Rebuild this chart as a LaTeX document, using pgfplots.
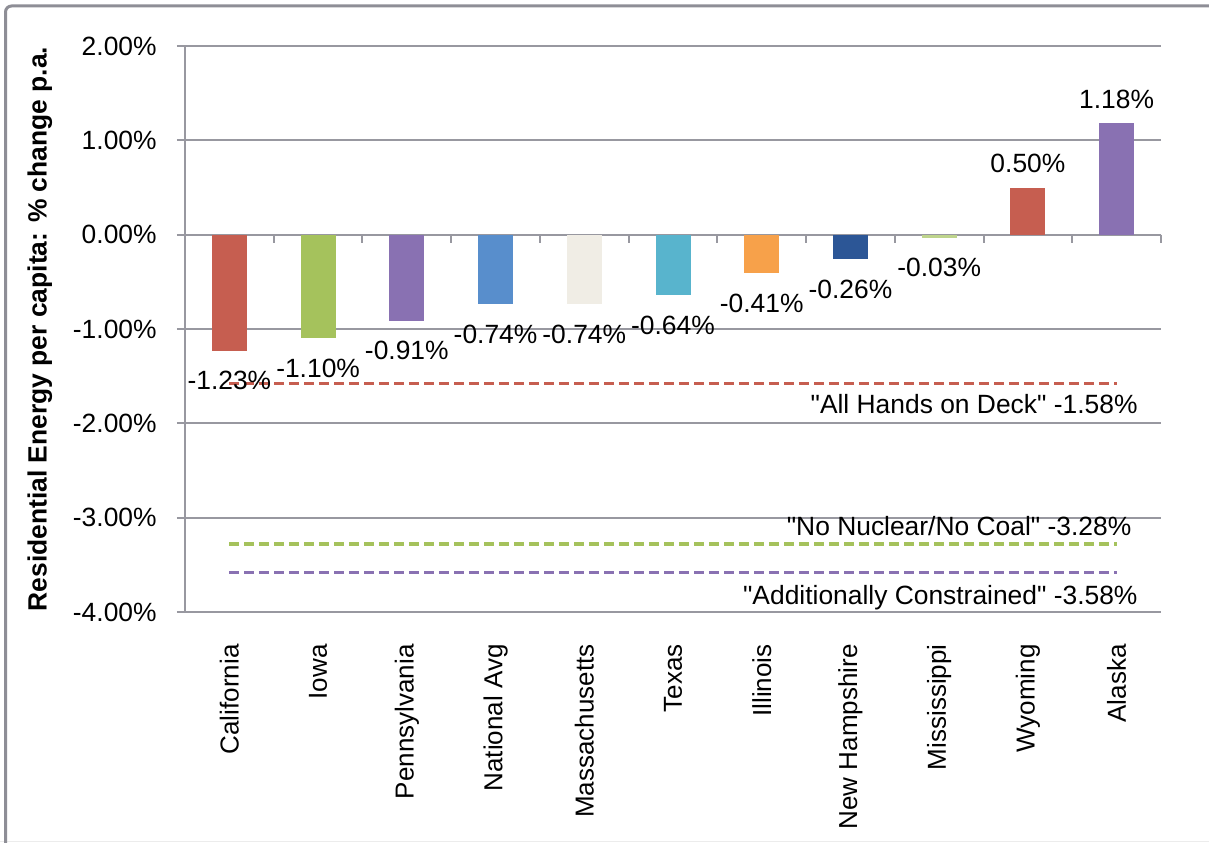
\documentclass[border=0pt]{standalone}
\usepackage{pgfplots}
\pgfplotsset{compat=1.18}
\usepackage{fontspec}
\setmainfont{Liberation Sans}
\newfontfamily\qfont{Liberation Sans}
\definecolor{cRed}{RGB}{198,94,80}
\definecolor{cGreen}{RGB}{165,194,92}
\definecolor{cPurple}{RGB}{137,113,178}
\definecolor{cBlue}{RGB}{88,142,204}
\definecolor{cCream}{RGB}{240,237,229}
\definecolor{cCyan}{RGB}{88,180,205}
\definecolor{cOrange}{RGB}{247,161,74}
\definecolor{cNavy}{RGB}{44,86,150}
\definecolor{cLtGreen}{RGB}{190,212,140}
\definecolor{gridc}{RGB}{152,152,160}
\definecolor{framec}{RGB}{142,142,150}
\pgfkeys{/pgf/number format/assume math mode=true}
\newcommand{\lblfont}{\fontsize{13.2}{15.5}\selectfont}
\newcommand{\catfont}{\fontsize{13}{15.5}\selectfont}
\pgfplotsset{
  barst/.style={ybar, bar shift=0pt, bar width=17.5pt, draw=none},
  neg/.style={barst, nodes near coords={\pgfmathprintnumber[fixed,fixed zerofill,precision=2]{\pgfplotspointmeta}\%},
     every node near coord/.append style={anchor=center, yshift=-15pt, font=\lblfont, text=black}},
  pos/.style={barst, nodes near coords={\pgfmathprintnumber[fixed,fixed zerofill,precision=2]{\pgfplotspointmeta}\%},
     every node near coord/.append style={anchor=center, yshift=12pt, font=\lblfont, text=black}},
}
\begin{document}
\lblfont
\begin{tikzpicture}
\useasboundingbox (0,0) rectangle (604.5pt,421pt);
\fill[white] (0,0) rectangle (604.5pt,421pt);
\draw[gray!15, line width=0.6pt] (0,0.3pt) -- (604.5pt,0.3pt);
\draw[framec, line width=1.5pt, rounded corners=3pt] (2.75pt,-1pt) -- (2.75pt,418pt) -- (606pt,418pt);
\begin{axis}[
  at={(92.5pt,115pt)}, anchor=south west,
  scale only axis, width=488pt, height=283pt,
  xmin=-0.5, xmax=10.5, ymin=-4, ymax=2,
  ytick={-4,-3,-2,-1,0,1,2},
  yticklabel={\pgfmathprintnumber[fixed,fixed zerofill,precision=2]{\tick}\%},
  ymajorgrids, grid style={gridc, line width=1pt},
  axis y line*=left, axis x line*=bottom,
  x axis line style={draw=none},
  y axis line style={gridc, line width=1pt},
  ytick style={gridc, line width=1pt},
  xtick style={draw=none},
  tick align=outside, major tick length=4pt,
  yticklabel style={font=\lblfont, inner sep=0pt, xshift=-10pt},
  xtick={0,1,2,3,4,5,6,7,8,9,10},
  xticklabels={California,Iowa,Pennsylvania,National Avg,Massachusetts,Texas,Illinois,New Hampshire,Mississippi,Wyoming,Alaska},
  xticklabel style={font=\catfont, rotate=90, anchor=east, inner sep=0pt},
  xticklabel shift=12pt,
  ylabel={\bfseries Residential Energy per capita: \% change p.a.},
  ylabel style={at={(axis description cs:-0.1486,0.5)}, anchor=center, font=\lblfont},
  clip=false,
]
\pgfplotsinvokeforeach{-0.5,0.5,1.5,2.5,3.5,4.5,5.5,6.5,7.5,8.5,9.5,10.5}{
  \draw[gridc, line width=1pt] (axis cs:#1,0) -- ([yshift=-4pt]axis cs:#1,0);
}
\addplot[neg, fill=cRed] coordinates {(0,-1.23)};
\addplot[neg, fill=cGreen] coordinates {(1,-1.10)};
\addplot[neg, fill=cPurple] coordinates {(2,-0.91)};
\addplot[neg, fill=cBlue] coordinates {(3,-0.74)};
\addplot[neg, fill=cCream] coordinates {(4,-0.74)};
\addplot[neg, fill=cCyan] coordinates {(5,-0.64)};
\addplot[neg, fill=cOrange] coordinates {(6,-0.41)};
\addplot[neg, fill=cNavy] coordinates {(7,-0.26)};
\addplot[neg, fill=cLtGreen] coordinates {(8,-0.03)};
\addplot[pos, fill=cRed] coordinates {(9,0.50)};
\addplot[pos, fill=cPurple] coordinates {(10,1.18)};

\addplot[sharp plot, no marks, cRed, line width=1.6pt, dash pattern=on 5pt off 2.5pt] coordinates {(0,-1.58) (10,-1.58)};
\addplot[sharp plot, no marks, cGreen, line width=1.6pt, dash pattern=on 5pt off 2.5pt] coordinates {(0,-3.28) (10,-3.28)};
\addplot[sharp plot, no marks, cPurple, line width=1.6pt, dash pattern=on 5pt off 2.5pt] coordinates {(0,-3.58) (10,-3.58)};

\node[anchor=east, inner sep=0pt, yshift=-10pt, font=\qfont\lblfont] at (axis cs:10.24,-1.58) {"All Hands on Deck" -1.58\%};
\node[anchor=east, inner sep=0pt, yshift=9pt, font=\qfont\lblfont] at (axis cs:10.17,-3.28) {"No Nuclear/No Coal" -3.28\%};
\node[anchor=east, inner sep=0pt, yshift=-12.5pt, font=\qfont\lblfont] at (axis cs:10.24,-3.58) {"Additionally Constrained" -3.58\%};
\end{axis}
\end{tikzpicture}
\end{document}
